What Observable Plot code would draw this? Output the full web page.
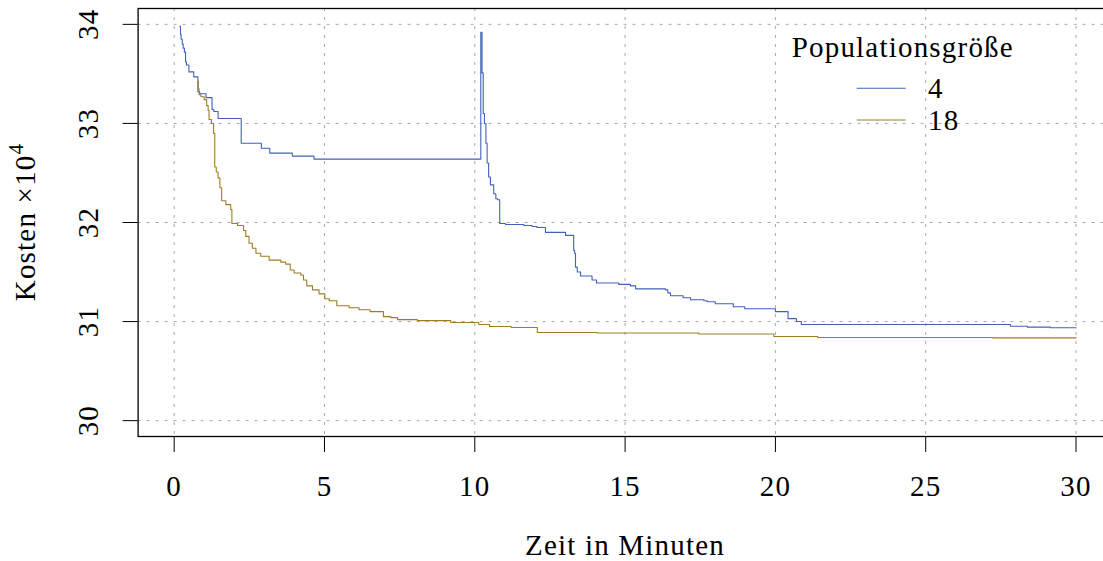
<!DOCTYPE html>
<html><head><meta charset="utf-8">
<script src="https://cdn.jsdelivr.net/npm/d3@7"></script>
<script src="https://cdn.jsdelivr.net/npm/@observablehq/plot@0.6"></script>
<style>
html,body{margin:0;padding:0;overflow:hidden;background:#fff;}
#chart{position:relative;width:1103px;height:561px;overflow:hidden;}
#chart svg{max-width:none !important;}
#chart svg text{letter-spacing:1.2px;}
</style></head><body><div id="chart"></div>
<script>
// ---- data ----
const series = ["4", "18"];
const seriesColors = ["#4262BA", "#A07C28"];

const time4 = [0.19, 0.21, 0.23, 0.27, 0.30, 0.34, 0.38, 0.41, 0.49, 0.65, 0.79, 0.85, 1.06, 1.26, 1.32, 1.46, 2.23, 2.90, 3.18, 3.93, 4.65,
  10.20, 10.24, 10.28, 10.32, 10.37, 10.41, 10.46, 10.52, 10.63, 10.70, 10.76, 10.83, 11.02, 11.63, 11.91, 12.07, 12.35, 13.02,
  13.29, 13.32, 13.35, 13.41, 13.52, 13.90, 14.05, 14.79, 15.18, 15.35, 16.35, 16.42, 16.51, 16.93, 17.18, 17.62, 17.73, 18.00,
  18.60, 18.98, 20.00, 20.42, 20.70, 20.86, 27.82, 28.38, 29.15, 30.00];
const cost4 = [33.98, 33.90, 33.85, 33.80, 33.76, 33.72, 33.62, 33.59, 33.52, 33.47, 33.32, 33.30, 33.26, 33.14, 33.12, 33.05, 32.80, 32.75, 32.70, 32.67, 32.64,
  33.92, 33.51, 33.10, 33.00, 32.80, 32.60, 32.46, 32.38, 32.29, 32.24, 32.23, 31.99, 31.98, 31.97, 31.96, 31.95, 31.90, 31.87,
  31.72, 31.69, 31.55, 31.50, 31.46, 31.42, 31.39, 31.375, 31.36, 31.33, 31.32, 31.29, 31.26, 31.24, 31.22, 31.21, 31.20, 31.18,
  31.15, 31.13, 31.10, 31.03, 31.00, 30.97, 30.953, 30.944, 30.937, 30.937];

const time18 = [0.77, 0.80, 0.83, 0.89, 1.00, 1.08, 1.13, 1.16, 1.24, 1.31, 1.35, 1.40, 1.46, 1.52, 1.58, 1.72, 1.88, 1.92, 2.11, 2.31,
  2.38, 2.49, 2.60, 2.72, 2.88, 3.16, 3.55, 3.71, 3.86, 3.99, 4.21, 4.30, 4.41, 4.60, 4.82, 5.01, 5.16, 5.41, 5.82, 6.15, 6.52,
  6.96, 7.21, 7.43, 8.09, 9.20, 10.13, 10.49, 11.21, 12.08, 14.07, 17.45, 19.95, 21.41, 27.23, 30.00];
const cost18 = [33.42, 33.35, 33.29, 33.27, 33.24, 33.18, 33.13, 33.04, 33.00, 32.90, 32.56, 32.51, 32.45, 32.35, 32.22, 32.18, 32.13, 31.99, 31.97, 31.92,
  31.86, 31.79, 31.74, 31.69, 31.66, 31.62, 31.60, 31.58, 31.52, 31.49, 31.47, 31.42, 31.36, 31.32, 31.28, 31.23, 31.21, 31.16, 31.14, 31.12, 31.10,
  31.05, 31.04, 31.02, 31.01, 30.99, 30.97, 30.95, 30.94, 30.89, 30.885, 30.875, 30.85, 30.84, 30.835, 30.835];

const xTicks = [0, 5, 10, 15, 20, 25, 30];
const yTicks = [30, 31, 32, 33, 34];
const xTitle = "Zeit in Minuten";
const yTitle = "Kosten ×10";
const yTitleSup = "4";
const legendTitle = "Populationsgröße";

// ---- build table ----
const data = [
  ...time4.map((t, i) => ({t, cost: cost4[i], pop: series[0]})),
  ...time18.map((t, i) => ({t, cost: cost18[i], pop: series[1]}))
];

const FONT = "Liberation Serif";
const FS = 29;

const plot = Plot.plot({
  width: 1115, height: 561,
  marginLeft: 137.6, marginRight: 3.4, marginTop: 8, marginBottom: 125,
  style: {fontFamily: FONT, fontSize: FS + "px", background: "white", color: "black", maxWidth: "none"},
  x: {domain: [-1.2, 31.2]},
  y: {domain: [29.84, 34.16]},
  color: {domain: series, range: seriesColors},
  marks: [
    Plot.gridX({ticks: xTicks, stroke: "#a8a8a8", strokeOpacity: 1, strokeDasharray: "3,6"}),
    Plot.gridY({ticks: yTicks, stroke: "#a8a8a8", strokeOpacity: 1, strokeDasharray: "3,6"}),
    Plot.line(data, {x: "t", y: "cost", z: "pop", stroke: "pop", curve: "step-after", strokeWidth: 1.1}),
    Plot.frame({stroke: "black", strokeWidth: 1.3}),
    Plot.axisX({ticks: xTicks, tickSize: 16, tickPadding: 23, fontSize: FS, fontFamily: FONT, label: null, tickFormat: d => String(d)}),
    Plot.axisY({ticks: yTicks, tickSize: 15, label: null, tickFormat: () => ""}),
    Plot.text(yTicks, {y: d => d, text: d => String(d), frameAnchor: "left", textAnchor: "middle", dx: -49, rotate: -90, fontSize: FS, fontFamily: FONT})
  ]
});
document.getElementById("chart").appendChild(plot);

// ---- titles & legend ----
const svg = d3.select(plot);
const g = svg.append("g").style("font-family", FONT).attr("font-size", FS).attr("fill", "black");

g.append("text").attr("x", 625).attr("y", 555).attr("text-anchor", "middle").text(xTitle);

const yt = g.append("text").attr("transform", "translate(35,222) rotate(-90)").attr("text-anchor", "middle");
yt.append("tspan").text(yTitle);
yt.append("tspan").attr("font-size", 21).attr("dy", -12).text(yTitleSup);

g.append("text").attr("x", 791.7).attr("y", 57.3).attr("text-anchor", "start").text(legendTitle);
series.forEach((s, i) => {
  const yy = 88.3 + i * 31.7;
  g.append("line").attr("x1", 856.7).attr("x2", 905.7).attr("y1", yy).attr("y2", yy)
    .attr("stroke", seriesColors[i]).attr("stroke-width", 1.1);
  g.append("text").attr("x", 928).attr("y", yy + 10).attr("text-anchor", "start").text(s);
});
</script>
</body></html>
